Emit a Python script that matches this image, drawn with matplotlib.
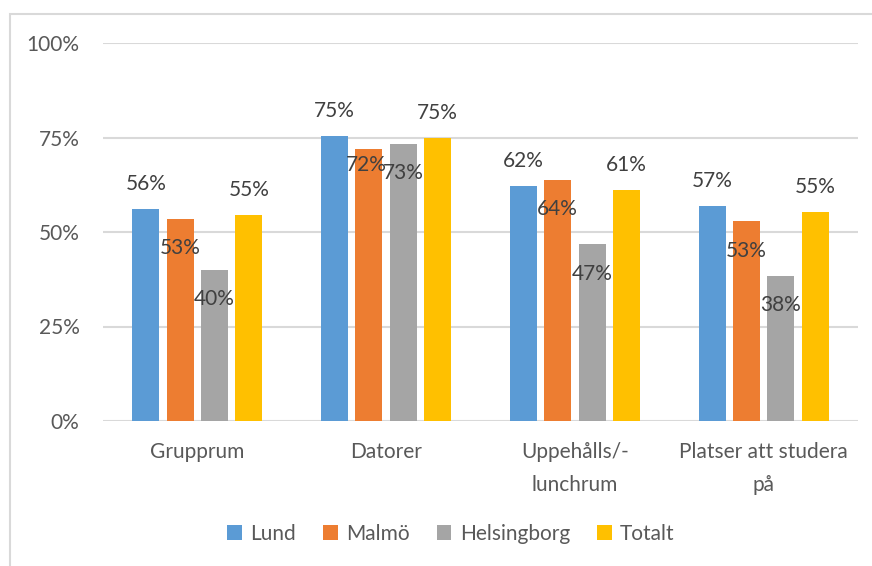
import matplotlib
matplotlib.use("Agg")
import matplotlib.pyplot as plt
from matplotlib.patches import Rectangle
import numpy as np

categories = ["Grupprum", "Datorer", "Uppehålls/-\nlunchrum", "Platser att studera\npå"]
series_names = ["Lund", "Malmö", "Helsingborg", "Totalt"]
lund = [56.0, 75.4, 62.2, 57.0]
malmo = [53.4, 72.0, 63.7, 52.8]
helsingborg = [40.0, 73.2, 46.7, 38.4]
totalt = [54.6, 74.9, 61.2, 55.2]
yticks = [0, 25, 50, 75, 100]
ytick_labels = ["0%", "25%", "50%", "75%", "100%"]

colors = ["#5B9BD5", "#ED7D31", "#A5A5A5", "#FFC000"]
series = [lund, malmo, helsingborg, totalt]

plt.rcParams['font.family'] = ['Lato', 'DejaVu Sans']
fig = plt.figure(figsize=(8.72, 5.66), dpi=100)
W, H = 872, 566
ax = fig.add_axes([103 / W, (H - 421) / H, (858 - 103) / W, (421 - 43) / H])

x = np.arange(len(categories))
spacing = 0.182
width = 0.143
# label offsets in points (center of text relative to bar top)
offsets = [18, -21, -21, 18]
for i, (vals, c, name) in enumerate(zip(series, colors, series_names)):
    xs = x + (i - 1.5) * spacing
    ax.bar(xs, vals, width=width, color=c, label=name, zorder=3)
    for j, (xx, v) in enumerate(zip(xs, vals)):
        dy = offsets[i]
        dx = 0
        if i == 1 and j == 1:
            dy = -11.5
            dx = -2
        ax.annotate(f"{round(v)}%", (xx, v), xytext=(dx, dy), textcoords="offset points",
                    ha="center", va="center", fontsize=15, color="#404040", zorder=4)

ax.set_xlim(-0.5, len(categories) - 0.5)
ax.set_ylim(0, 100)
ax.set_yticks(yticks)
ax.set_yticklabels(ytick_labels)
ax.set_xticks(x)
ax.set_xticklabels(categories, linespacing=1.8)
ax.tick_params(axis="y", length=0, pad=17, labelsize=15, labelcolor="#595959")
ax.tick_params(axis="x", length=0, pad=15, labelsize=15, labelcolor="#595959")
for s in ax.spines.values():
    s.set_visible(False)
ax.grid(axis="y", color="#D9D9D9", linewidth=1.5, zorder=0)
ax.set_axisbelow(True)

fig.legend(loc="center", bbox_to_anchor=(451 / W, 1 - 534 / H), ncol=4, frameon=False,
           fontsize=15, handlelength=0.7, handleheight=0.7, handletextpad=0.4,
           columnspacing=1.3, labelcolor="#595959")

fig.patches.append(Rectangle((9.5 / W, -0.1), 1.2, (H - 14) / H + 0.1, transform=fig.transFigure,
                             fill=False, edgecolor="#D9D9D9", linewidth=1.5))

fig.savefig("out.png", dpi=100)
